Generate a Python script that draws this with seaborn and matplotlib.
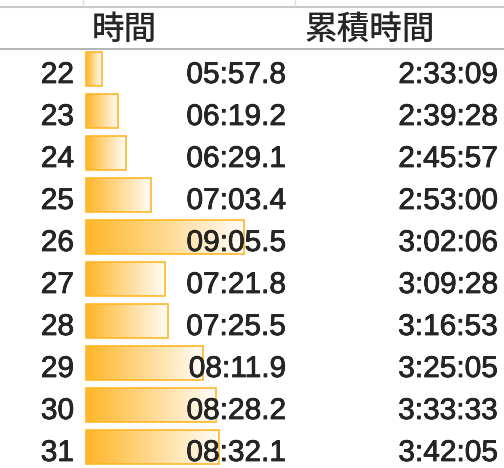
import numpy as np
import pandas as pd
import matplotlib
matplotlib.use("Agg")
import matplotlib.pyplot as plt
import matplotlib.patheffects as pe
import seaborn as sns
from matplotlib.colors import LinearSegmentedColormap

rows = [22, 23, 24, 25, 26, 27, 28, 29, 30, 31]
lap_labels = ["05:57.8", "06:19.2", "06:29.1", "07:03.4", "09:05.5",
              "07:21.8", "07:25.5", "08:11.9", "08:28.2", "08:32.1"]
cum_labels = ["2:33:09", "2:39:28", "2:45:57", "2:53:00", "3:02:06",
              "3:09:28", "3:16:53", "3:25:05", "3:33:33", "3:42:05"]
headers = ["時間", "累積時間"]


def to_sec(s):
    m, sec = s.split(":")
    return int(m) * 60 + float(sec)


df = pd.DataFrame({"row": [str(r) for r in rows],
                   "sec": [to_sec(s) for s in lap_labels]})
# excel style data bar: shortest bar is 10% of the longest
lo, hi = df.sec.min(), df.sec.max()
origin = lo - (hi - lo) * 0.1 / 0.9
df["bar"] = df.sec - origin

sns.set_style("white")
W, H = 504, 468
fig = plt.figure(figsize=(W / 100, H / 100), dpi=100)

# bars
bax = fig.add_axes([86 / W, 0, 158 / W, 420 / H])
sns.barplot(data=df, x="bar", y="row", orient="h", width=0.8,
            color="#FFB628", ax=bax)
bax.axis("off")

cmap = LinearSegmentedColormap.from_list("bar", ["#FFB628", "#FFFFFF"])
grad = np.linspace(0, 0.97, 256).reshape(1, -1)
for p in bax.patches:
    x0, y0 = p.get_x(), p.get_y()
    w, h = p.get_width(), p.get_height()
    im = bax.imshow(grad, cmap=cmap, vmin=0, vmax=1, aspect="auto",
                    extent=(x0, x0 + w, y0 + h, y0), zorder=1)
    im.set_clip_path(p)
    p.set_facecolor("none")
    p.set_edgecolor("#FFB628")
    p.set_linewidth(1.2)
    p.set_zorder(2)
    p.set_clip_on(False)
bax.set_xlim(0, df.bar.max())
bax.set_ylim(len(rows) - 0.5, -0.5)

# text / grid overlay
ax = fig.add_axes([0, 0, 1, 1])
ax.set_xlim(0, W)
ax.set_ylim(H, 0)
ax.axis("off")

ax.plot([0, W], [6.5, 6.5], color="#c8c8c8", lw=1.5)
for xv in [83, 295]:
    ax.plot([xv, xv], [0, 6], color="#dedede", lw=1)
ax.plot([0, W], [48.5, 48.5], color="#a8a8a8", lw=1.2)

thick = [pe.withStroke(linewidth=0.5, foreground="black")]

cjk = ["Noto Sans CJK JP", "DejaVu Sans"]
ax.text(124, 29, headers[0], ha="center", va="center", fontsize=23.5,
        family=cjk, fontweight="medium")
ax.text(370, 29, headers[1], ha="center", va="center", fontsize=23.5,
        family=cjk, fontweight="medium")

num = ["Liberation Sans", "DejaVu Sans"]
for i, r in enumerate(rows):
    yb = 48 + 42 * i + 35
    ax.text(74, yb, str(r), ha="right", va="baseline", fontsize=21.5,
            family=num, path_effects=thick)
    ax.text(286, yb, lap_labels[i], ha="right", va="baseline", fontsize=21.5,
            family=num, path_effects=thick)
    ax.text(498, yb, cum_labels[i], ha="right", va="baseline", fontsize=21.5,
            family=num, path_effects=thick)

fig.savefig("out.png", dpi=100)
